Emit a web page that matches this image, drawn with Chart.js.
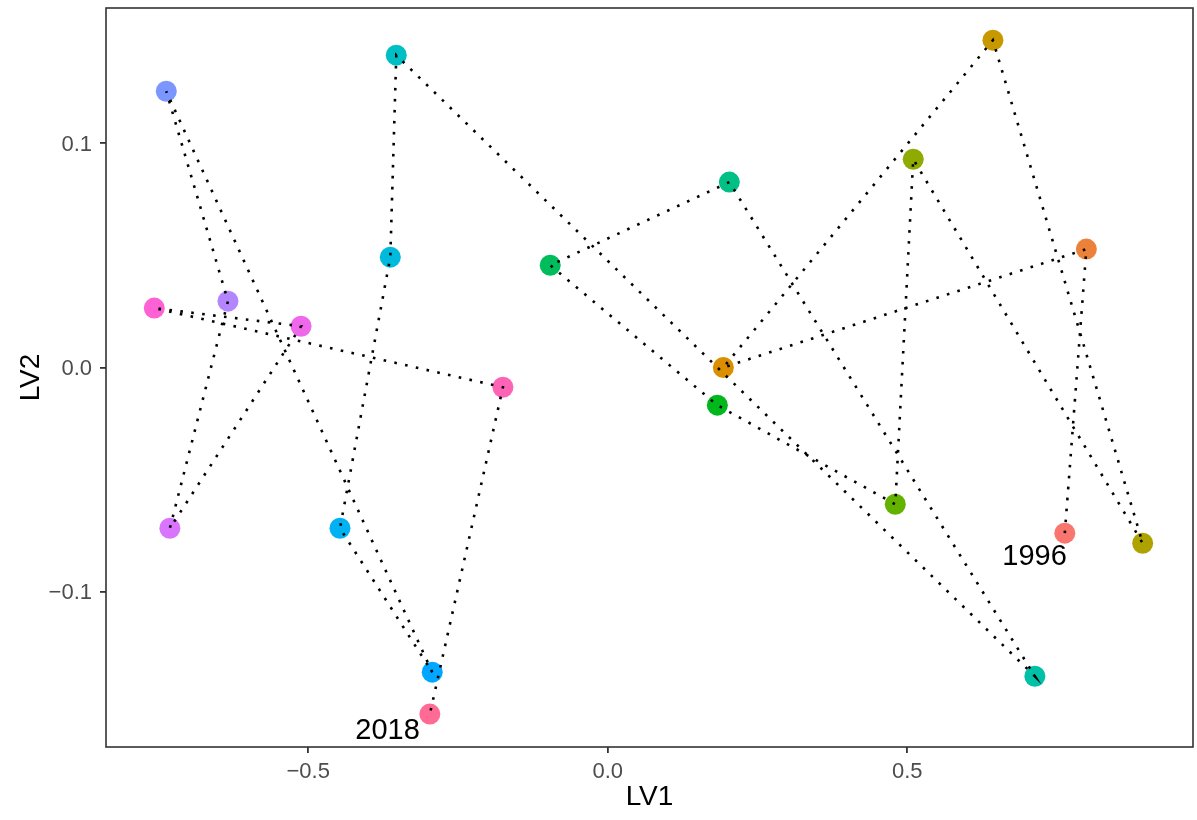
<!DOCTYPE html>
<html>
<head>
<meta charset="utf-8">
<script src="https://cdn.jsdelivr.net/npm/chart.js@4.4.1/dist/chart.umd.min.js"></script>
<style>
  body { margin: 0; background: #fff; }
  #wrap { width: 1197px; height: 820px; }
</style>
</head>
<body>
<div id="wrap"><canvas id="lv-chart" width="1197" height="820"></canvas></div>
<script>
// Scores along the two latent variables, in time order (1996 first, 2018 last)
const lv1 = [0.763, 0.799, 0.193, 0.643, 0.893, 0.510, 0.480, 0.183, -0.096, 0.203, 0.713,
             -0.353, -0.363, -0.447, -0.293, -0.737, -0.634, -0.731, -0.512, -0.757, -0.175, -0.297];
const lv2 = [-0.0739, 0.0528, 0.0000, 0.1460, -0.0784, 0.0929, -0.0610, -0.0168, 0.0456, 0.0827, -0.1377,
             0.1393, 0.0492, -0.0717, -0.1359, 0.1232, 0.0296, -0.0717, 0.0184, 0.0265, -0.0088, -0.1546];
const endLabels = ['1996', '2018'];
const xTicks = [-0.5, 0.0, 0.5];
const yTicks = [-0.1, 0.0, 0.1];

const points = lv1.map((x, i) => ({ x: x, y: lv2[i] }));

// ggplot-like hue palette (hcl, c=100, l=65)
function hcl(h, c, l) {
    const hr = h * Math.PI / 180;
    const u = c * Math.cos(hr), v = c * Math.sin(hr);
    const Xn = 95.047, Yn = 100, Zn = 108.883;
    const un = 4 * Xn / (Xn + 15 * Yn + 3 * Zn), vn = 9 * Yn / (Xn + 15 * Yn + 3 * Zn);
    const Y = Yn * Math.pow((l + 16) / 116, 3);
    const up = u / (13 * l) + un, vp = v / (13 * l) + vn;
    const X = Y * 9 * up / (4 * vp);
    const Z = Y * (12 - 3 * up - 20 * vp) / (4 * vp);
    const x = X / 100, y = Y / 100, z = Z / 100;
    const lin = [
        3.240479 * x - 1.537150 * y - 0.498535 * z,
        -0.969256 * x + 1.875992 * y + 0.041556 * z,
        0.055648 * x - 0.204043 * y + 1.057311 * z
    ];
    const rgb = lin.map(t => {
        const s = t <= 0.0031308 ? 12.92 * t : 1.055 * Math.pow(t, 1 / 2.4) - 0.055;
        return Math.round(Math.min(1, Math.max(0, s)) * 255);
    });
    return 'rgb(' + rgb.join(',') + ')';
}
const n = points.length;
const colors = points.map((p, i) => hcl(15 + i * 360 / n, 100, 65));

const fmt = v => (Math.abs(v) < 1e-9 ? 0 : v).toFixed(1).replace('-', '\u2212');

// panel border + the first/last year labels
const panelPlugin = {
    id: 'panel',
    afterDatasetsDraw(chart) {
        const { ctx, scales } = chart;
        ctx.save();
        ctx.font = '29px "Liberation Sans", Arial, sans-serif';
        ctx.fillStyle = '#000';
        ctx.textAlign = 'right';
        ctx.textBaseline = 'alphabetic';
        const first = points[0], last = points[n - 1];
        ctx.fillText(endLabels[0], scales.x.getPixelForValue(first.x) + 2, scales.y.getPixelForValue(first.y) + 32);
        ctx.fillText(endLabels[1], scales.x.getPixelForValue(last.x) - 10, scales.y.getPixelForValue(last.y) + 25);
        ctx.restore();
    },
    afterDraw(chart) {
        const { ctx, chartArea: a } = chart;
        ctx.save();
        ctx.strokeStyle = '#333333';
        ctx.lineWidth = 1.6;
        ctx.strokeRect(a.left, a.top, a.right - a.left, a.bottom - a.top);
        ctx.restore();
    }
};

const tickFont = { family: '"Liberation Sans", Arial, sans-serif', size: 22 };
const titleFont = { family: '"Liberation Sans", Arial, sans-serif', size: 28 };

new Chart(document.getElementById('lv-chart').getContext('2d'), {
    type: 'scatter',
    data: {
        datasets: [{
            // path through the years, drawn on top of the points
            data: points,
            showLine: true,
            borderColor: '#000',
            borderWidth: 2.6,
            borderDash: [2.6, 8.4],
            borderCapStyle: 'butt',
            pointRadius: 0,
            fill: false,
            tension: 0
        }, {
            data: points,
            pointRadius: 10.5,
            pointBackgroundColor: colors,
            pointBorderWidth: 0,
            borderColor: 'transparent'
        }]
    },
    options: {
        responsive: false,
        animation: false,
        layout: { autoPadding: false, padding: { left: 0, right: 4, top: 8, bottom: 0 } },
        plugins: { legend: { display: false }, tooltip: { enabled: false } },
        scales: {
            x: {
                type: 'linear',
                min: -0.8376, max: 0.977,
                afterBuildTicks: s => { s.ticks = xTicks.map(v => ({ value: v })); },
                afterFit: s => { s.height = 73; s.paddingLeft = 0; s.paddingRight = 0; },
                grid: { drawOnChartArea: false, drawTicks: true, tickLength: 6, color: '#333333', lineWidth: 1.8 },
                border: { display: false },
                ticks: { callback: v => fmt(v), color: '#4D4D4D', font: tickFont, padding: 6, maxRotation: 0 },
                title: { display: true, text: 'LV1', color: '#000', font: titleFont, padding: { top: 0, bottom: 6 } }
            },
            y: {
                type: 'linear',
                min: -0.16927, max: 0.16035,
                afterBuildTicks: s => { s.ticks = yTicks.map(v => ({ value: v })); },
                afterFit: s => { s.width = 106; s.paddingTop = 0; s.paddingBottom = 0; },
                grid: { drawOnChartArea: false, drawTicks: true, tickLength: 6, color: '#333333', lineWidth: 1.8 },
                border: { display: false },
                ticks: { callback: v => fmt(v), color: '#4D4D4D', font: tickFont, padding: 8, labelOffset: 1.5 },
                title: { display: true, text: 'LV2', color: '#000', font: titleFont, padding: { top: 14, bottom: 0 } }
            }
        }
    },
    plugins: [panelPlugin]
});
</script>
</body>
</html>
